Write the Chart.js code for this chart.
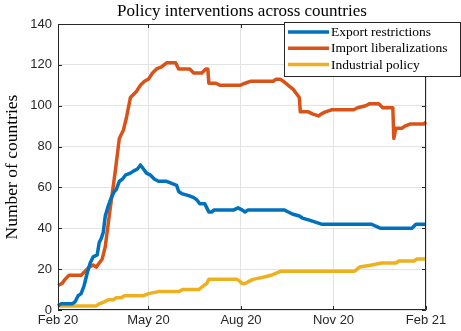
<!DOCTYPE html>
<html>
<head>
<meta charset="utf-8">
<script src="https://cdn.jsdelivr.net/npm/chart.js@4.4.1/dist/chart.umd.min.js"></script>
<style>
  html, body { margin: 0; padding: 0; background: #fff; }
  #wrap { width: 461px; height: 331px; }
</style>
</head>
<body>
<div id="wrap"><canvas id="grafik"></canvas></div>
<script>
// Sumbu X: hari sejak 1 Feb 2020
const tickDays = [0, 90, 182, 274, 366];
const tickLabels = ['Feb 20', 'May 20', 'Aug 20', 'Nov 20', 'Feb 21'];

const seriesNames = ['Export restrictions', 'Import liberalizations', 'Industrial policy'];
const seriesColors = ['#0072BD', '#D95319', '#EDB120'];

// Export restrictions
const exportDays = [0, 3, 14, 17, 20, 23, 26, 29, 32, 35, 39, 41, 43, 45, 47, 50, 53, 56, 58, 61, 64, 67, 72, 75, 79, 82, 85, 88, 92, 96, 100, 108, 113, 118, 120, 123, 130, 135, 138, 141, 146, 148, 150, 153, 155, 175, 179, 183, 186, 189, 225, 229, 233, 240, 243, 250, 256, 262, 312, 316, 321, 352, 356, 366];
const exportVals = [2, 3, 3, 4, 7, 8, 12, 18, 23, 26, 27, 33, 35, 38, 46, 51, 55, 58, 59, 63, 64, 66, 67, 68, 69, 71, 69, 67, 66, 64, 63, 63, 62, 61, 58, 57, 56, 55, 54, 52, 52, 50, 48, 48, 49, 49, 50, 49, 48, 49, 49, 48, 47, 46, 45, 44, 43, 42, 42, 41, 40, 40, 42, 42];

// Import liberalizations
const importDays = [0, 4, 7, 11, 23, 27, 31, 35, 38, 41, 44, 47, 52, 57, 61, 63, 65, 68, 72, 76, 78, 82, 86, 90, 94, 98, 103, 108, 117, 120, 131, 135, 143, 147, 149, 150, 157, 161, 181, 186, 192, 214, 217, 221, 224, 229, 234, 237, 240, 241, 249, 253, 259, 262, 266, 272, 294, 298, 306, 310, 319, 323, 333, 334, 336, 342, 345, 350, 364, 366];
const importVals = [12, 13, 15, 17, 17, 19, 21, 22, 21, 23, 25, 31, 50, 68, 84, 86, 88, 94, 104, 106, 107, 110, 112, 113, 116, 118, 119, 121, 121, 118, 118, 116, 116, 118, 118, 111, 111, 110, 110, 111, 112, 112, 113, 113, 112, 110, 108, 106, 104, 97, 97, 96, 95, 96, 97, 98, 98, 99, 100, 101, 101, 99, 99, 84, 89, 89, 90, 91, 91, 92];

// Industrial policy
const industDays = [0, 38, 41, 46, 50, 55, 58, 63, 66, 85, 90, 100, 120, 124, 140, 145, 148, 150, 158, 178, 181, 183, 186, 190, 194, 204, 212, 217, 222, 295, 300, 312, 322, 336, 339, 354, 357, 366];
const industVals = [2, 2, 3, 4, 5, 5, 6, 6, 7, 7, 8, 9, 9, 10, 10, 12, 13, 15, 15, 15, 14, 13, 13, 14, 15, 16, 17, 18, 19, 19, 21, 22, 23, 23, 24, 24, 25, 25];

const yTicks = [0, 20, 40, 60, 80, 100, 120, 140];

function titik(days, vals) {
    return days.map((d, i) => ({ x: d, y: vals[i] }));
}

const warnaSumbu = '#262626';
const serif = "'Liberation Serif', 'Times New Roman', serif";
const sans = "'Liberation Sans', Arial, sans-serif";

// Plugin: kotak axis, tick ke dalam, legenda ala MATLAB
const gayaMatlab = {
    id: 'gayaMatlab',
    afterDraw(chart) {
        const ctx = chart.ctx;
        const a = chart.chartArea;
        const xs = chart.scales.x;
        const ys = chart.scales.y;
        ctx.save();
        ctx.strokeStyle = warnaSumbu;
        ctx.lineWidth = 1;
        ctx.beginPath();
        ctx.rect(a.left + 0.5, a.top + 0.5, a.right - a.left - 1, a.bottom - a.top - 1);
        ctx.stroke();

        const tl = 4;
        ctx.beginPath();
        yTicks.forEach(v => {
            const py = Math.round(ys.getPixelForValue(v)) + 0.5;
            ctx.moveTo(a.left, py); ctx.lineTo(a.left + tl, py);
            ctx.moveTo(a.right, py); ctx.lineTo(a.right - tl, py);
        });
        tickDays.forEach(v => {
            const px = Math.round(xs.getPixelForValue(v)) + 0.5;
            ctx.moveTo(px, a.bottom); ctx.lineTo(px, a.bottom - tl);
            ctx.moveTo(px, a.top); ctx.lineTo(px, a.top + tl);
        });
        ctx.stroke();

        // legenda
        const bx = 284.5, by = 22.5, bw = 176, bh = 54;
        ctx.fillStyle = '#fff';
        ctx.fillRect(bx, by, bw, bh);
        ctx.strokeStyle = warnaSumbu;
        ctx.strokeRect(bx, by, bw, bh);
        ctx.font = '13.5px ' + serif;
        ctx.textBaseline = 'middle';
        chart.data.datasets.forEach((ds, i) => {
            const cy = 32 + i * 16.3;
            ctx.strokeStyle = ds.borderColor;
            ctx.lineWidth = 3.5;
            ctx.beginPath();
            ctx.moveTo(288, cy); ctx.lineTo(329, cy);
            ctx.stroke();
            ctx.fillStyle = '#000';
            ctx.fillText(ds.label, 331, cy + 0.5);
        });
        ctx.restore();
    }
};

const dataSeri = [titik(exportDays, exportVals), titik(importDays, importVals), titik(industDays, industVals)];

new Chart(document.getElementById('grafik'), {
    type: 'line',
    data: {
        datasets: seriesNames.map((n, i) => ({
            label: n,
            data: dataSeri[i],
            borderColor: seriesColors[i],
            backgroundColor: seriesColors[i],
            borderWidth: 3.5,
            pointRadius: 0,
            tension: 0,
            borderJoinStyle: 'round',
            clip: 3
        }))
    },
    options: {
        responsive: true,
        maintainAspectRatio: false,
        animation: false,
        layout: { padding: { left: 0, right: 35, top: 0, bottom: 0 } },
        plugins: {
            legend: { display: false },
            tooltip: { enabled: false },
            title: {
                display: true,
                text: 'Policy interventions across countries',
                fullSize: false,
                color: '#000',
                font: { family: serif, size: 17, weight: 'normal' },
                padding: { top: 1, bottom: 2.6 }
            }
        },
        scales: {
            x: {
                type: 'linear',
                min: 0,
                max: 366,
                afterBuildTicks: s => { s.ticks = tickDays.map(v => ({ value: v })); },
                afterFit: s => { s.height = 21; },
                ticks: {
                    callback: (v) => tickLabels[tickDays.indexOf(v)],
                    color: warnaSumbu,
                    font: { family: sans, size: 13 },
                    padding: 3,
                    maxRotation: 0
                },
                grid: { color: '#e3e3e3', drawTicks: false },
                border: { display: false }
            },
            y: {
                min: 0,
                max: 140,
                afterBuildTicks: s => { s.ticks = yTicks.map(v => ({ value: v })); },
                afterFit: s => { s.width = 58; },
                ticks: {
                    color: warnaSumbu,
                    font: { family: sans, size: 13 },
                    padding: 6
                },
                grid: { color: '#e3e3e3', drawTicks: false },
                border: { display: false },
                title: {
                    display: true,
                    text: 'Number of countries',
                    color: '#000',
                    font: { family: serif, size: 17.5 },
                    padding: { top: 2, bottom: 0 }
                }
            }
        }
    },
    plugins: [gayaMatlab]
});
</script>
</body>
</html>
